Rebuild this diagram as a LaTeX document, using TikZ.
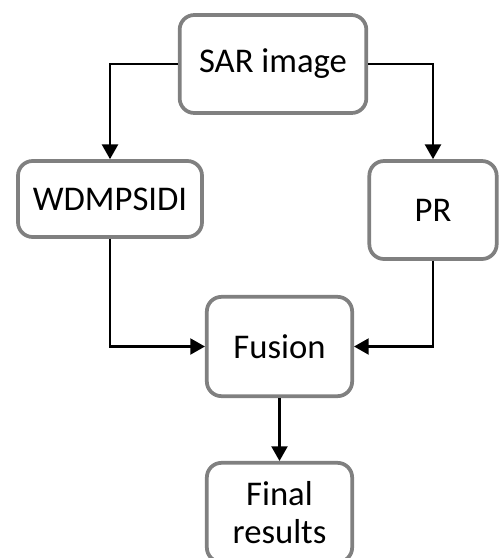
\documentclass[tikz,border=0pt]{standalone}
\usepackage{fontspec}
\setmainfont{Carlito}
\usepackage{tikz}
\usetikzlibrary{arrows.meta}
\definecolor{gris}{RGB}{128, 128, 128}
\tikzset{
    blk/.style={draw=gris, line width=2.8pt, rounded corners=11pt, fill=white, align=center,
                font=\fontsize{26}{28}\selectfont, inner sep=0pt},
    conn/.style={-{Triangle[width=12pt,length=11pt]}, black, line width=1.6pt},
}
\begin{document}
\begin{tikzpicture}[x=0.75pt, y=-0.75pt]
        \clip (0,0) rectangle (499,558);

        \node [blk, minimum width=140pt, minimum height=73.5pt] (sar) at (273,64) {SAR image};
        \node [blk, minimum width=138pt, minimum height=57pt] (wdm) at (110,199) {WDMPSIDI};
        \node [blk, minimum width=95.5pt, minimum height=73.5pt] (pr) at (433,210) {PR};
        \node [blk, minimum width=109pt, minimum height=74.5pt] (fus) at (279.5,346.5) {Fusion};
        \node [blk, minimum width=109pt, minimum height=74.5pt] (fin) at (279.5,512.5) {\raisebox{-4pt}{Final}\\\raisebox{-4pt}{results}};

        \draw[conn] (sar.west) -| (wdm.north);
        \draw[conn] (sar.east) -| (pr.north);

        \draw[conn] (wdm.south) |- (fus.west);
        \draw[conn] (pr.south) |- (fus.east);

        \draw[conn] (fus.south) -- (fin.north);
\end{tikzpicture}
\end{document}
